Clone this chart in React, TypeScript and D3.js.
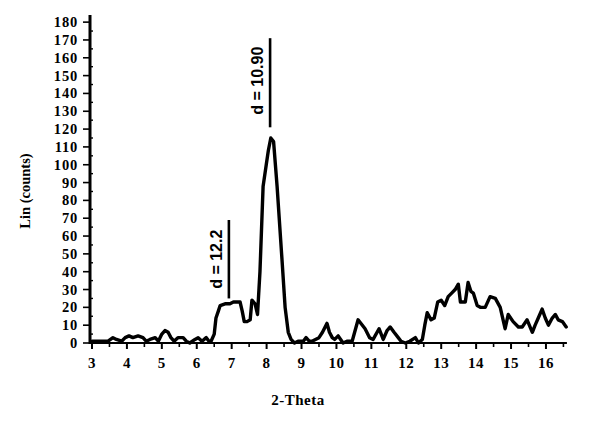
import React from "react";
import * as d3 from "d3";

const twoTheta = [
  3.0, 3.23, 3.46, 3.6, 3.7, 3.85, 3.95, 4.06, 4.17, 4.32, 4.46, 4.55, 4.66, 4.81, 4.9, 5.0, 5.09, 5.18, 5.26, 5.35,
  5.46, 5.61, 5.7, 5.8, 5.95, 6.04, 6.15, 6.27, 6.35, 6.41, 6.5, 6.55, 6.62, 6.67, 6.81, 6.95, 7.05, 7.13, 7.24, 7.3,
  7.36, 7.44, 7.53, 7.58, 7.67, 7.74, 7.81, 7.9, 7.99, 8.05, 8.12, 8.2, 8.3, 8.44, 8.53, 8.62, 8.7, 8.8, 8.9, 9.05,
  9.13, 9.22, 9.3, 9.5, 9.6, 9.73, 9.8, 9.88, 9.95, 10.05, 10.12, 10.19, 10.3, 10.45, 10.62, 10.82, 10.95, 11.05, 11.22, 11.34,
  11.45, 11.54, 11.65, 11.77, 11.85, 11.97, 12.1, 12.26, 12.35, 12.46, 12.53, 12.6, 12.71, 12.8, 12.9, 13.0, 13.1, 13.2, 13.3, 13.4,
  13.49, 13.55, 13.69, 13.77, 13.85, 13.92, 14.03, 14.12, 14.26, 14.4, 14.55, 14.69, 14.83, 14.92, 15.06, 15.21, 15.32, 15.46, 15.61, 15.69,
  15.78, 15.89, 15.98, 16.07, 16.18, 16.27, 16.35, 16.47, 16.58,
];
const counts = [
  1, 1, 1, 3, 2, 1, 3, 4, 3, 4, 3, 1, 2, 3, 1, 5, 7, 6, 3, 1,
  3, 3, 1, 0, 2, 3, 1, 3, 1, 1, 5, 14, 18, 21, 22, 22, 23, 23, 23, 18,
  12, 12, 13, 24, 22, 16, 40, 88, 100, 108, 115, 113, 88, 47, 20, 6, 2, 0, 1, 1,
  3, 1, 1, 3, 6, 11, 6, 3, 2, 4, 2, 0, 1, 1, 13, 8, 3, 2, 8, 2,
  7, 9, 6, 3, 1, 0, 1, 3, 0, 2, 10, 17, 13, 14, 23, 24, 21, 26, 28, 30,
  33, 23, 23, 34, 29, 28, 21, 20, 20, 26, 25, 20, 8, 16, 12, 9, 9, 13, 6, 10,
  14, 19, 14, 10, 14, 16, 13, 12, 9,
];

const xTickValues = [3, 4, 5, 6, 7, 8, 9, 10, 11, 12, 13, 14, 15, 16];
const xMinorValues = [3.5, 4.5, 5.5, 6.5, 7.5, 8.5, 9.5, 10.5, 11.5, 12.5, 13.5, 14.5, 15.5, 16.5];
const yTickValues = [0, 10, 20, 30, 40, 50, 60, 70, 80, 90, 100, 110, 120, 130, 140, 150, 160, 170, 180];
const yMinorValues = [5, 15, 25, 35, 45, 55, 65, 75, 85, 95, 105, 115, 125, 135, 145, 155, 165, 175];

const annotationLabels = ["d = 10.90", "d = 12.2"];
const annotationX = [8.1, 6.92];
const annotationLow = [121, 25];
const annotationHigh = [171, 69];

const W = 599;
const H = 421;

export default function App() {
  const x = d3.scaleLinear().domain([3, 16.6]).range([92, 92 + 13.6 * 34.92]);
  const y = d3.scaleLinear().domain([0, 184]).range([343, 15]);
  const pts: [number, number][] = twoTheta.map((t, i) => [t, counts[i]]);
  const line = d3
    .line<[number, number]>()
    .x((d) => x(d[0]))
    .y((d) => y(d[1]))
    .curve(d3.curveLinear);

  const serif = "'Liberation Serif', 'Times New Roman', serif";
  const sans = "'Liberation Sans', Arial, sans-serif";
  const axisX = 90;

  return (
    <div style={{ position: "absolute", left: 0, top: 0 }}>
      <svg width={W} height={H} viewBox={`0 0 ${W} ${H}`} style={{ display: "block", background: "#fff" }}>
        <rect x={0} y={0} width={W} height={H} fill="#fff" />
        {/* y axis */}
        <line x1={axisX} x2={axisX} y1={y(0) + 1} y2={y(184)} stroke="#000" strokeWidth={3} />
        {yTickValues.map((v) => (
          <g key={"yt" + v}>
            <line x1={axisX - 7} x2={axisX} y1={y(v)} y2={y(v)} stroke="#000" strokeWidth={1.6} />
            <text
              x={78}
              y={y(v)}
              textAnchor="end"
              dominantBaseline="central"
              fontFamily={serif}
              fontWeight="bold"
              fontSize={14.5}
              letterSpacing={0.8}
              fill="#000"
            >
              {v}
            </text>
          </g>
        ))}
        {yMinorValues.map((v) => (
          <line key={"ym" + v} x1={axisX} x2={axisX + 3} y1={y(v)} y2={y(v)} stroke="#000" strokeWidth={1.4} />
        ))}
        {/* x axis */}
        <line x1={axisX} x2={x(16.6)} y1={y(0)} y2={y(0)} stroke="#000" strokeWidth={2} />
        {xTickValues.map((v) => (
          <g key={"xt" + v}>
            <line x1={x(v)} x2={x(v)} y1={y(0)} y2={y(0) + 6} stroke="#000" strokeWidth={2} />
            <text
              x={x(v)}
              y={368}
              textAnchor="middle"
              fontFamily={serif}
              fontWeight="bold"
              fontSize={15}
              letterSpacing={0.5}
              fill="#000"
            >
              {v}
            </text>
          </g>
        ))}
        {xMinorValues.map((v) => (
          <line key={"xm" + v} x1={x(v)} x2={x(v)} y1={y(0)} y2={y(0) + 4} stroke="#000" strokeWidth={1.6} />
        ))}
        {/* axis titles */}
        <text
          transform={`translate(30, 191) rotate(-90)`}
          textAnchor="middle"
          fontFamily={serif}
          fontWeight="bold"
          fontSize={14.5}
          fill="#000"
        >
          Lin (counts)
        </text>
        <text x={298} y={405} textAnchor="middle" fontFamily={serif} fontWeight="bold" fontSize={15} letterSpacing={0.5} fill="#000">
          2-Theta
        </text>
        {/* data */}
        <path d={line(pts) || ""} fill="none" stroke="#000" strokeWidth={3.4} strokeLinejoin="round" strokeLinecap="round" />
        {/* annotations */}
        {annotationLabels.map((lab, i) => {
          const lx = x(annotationX[i]);
          const y1 = y(annotationLow[i]);
          const y2 = y(annotationHigh[i]);
          return (
            <g key={"an" + i}>
              <line x1={lx} x2={lx} y1={y1} y2={y2} stroke="#000" strokeWidth={2.6} />
              <text
                transform={`translate(${lx - 7}, ${(y1 + y2) / 2 + (i === 0 ? -2 : 0)}) rotate(-90)`}
                textAnchor="middle"
                fontFamily={sans}
                fontWeight="bold"
                fontSize={16}
                fill="#000"
              >
                {lab}
              </text>
            </g>
          );
        })}
      </svg>
    </div>
  );
}
